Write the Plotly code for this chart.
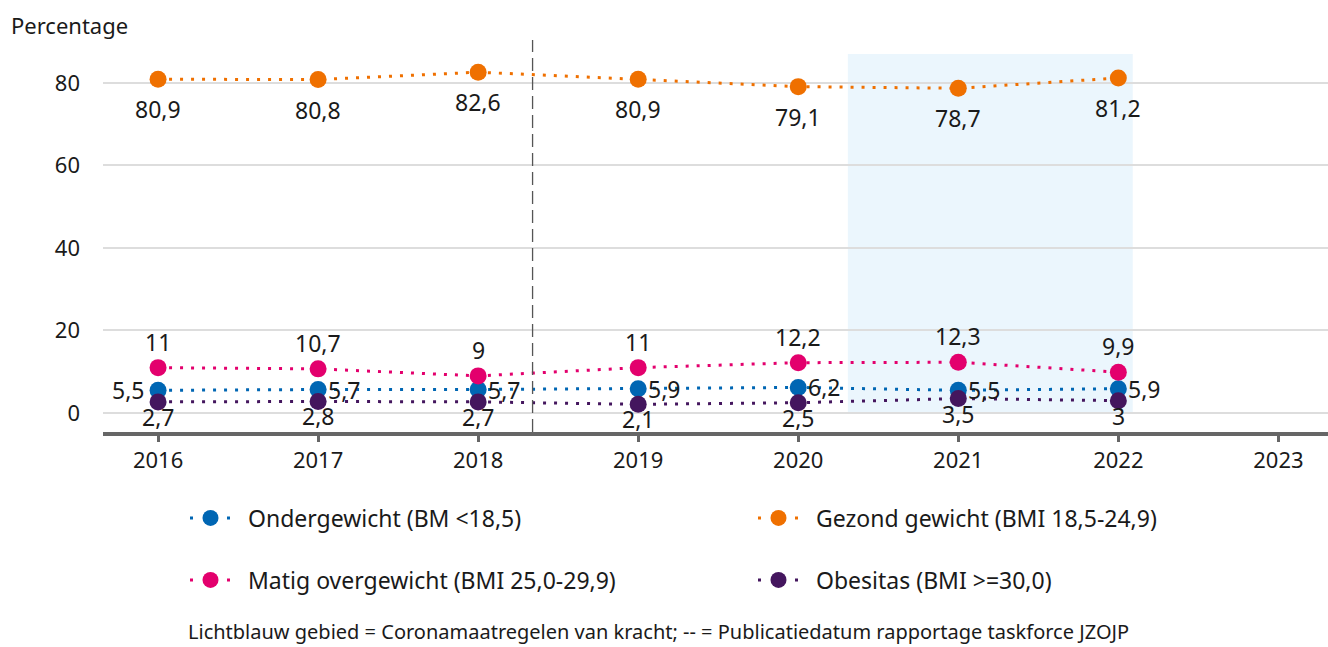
import plotly.graph_objects as go

# BMI-categorieën per jaar (percentage)
years = [2016, 2017, 2018, 2019, 2020, 2021, 2022]
ondergewicht = [5.5, 5.7, 5.7, 5.9, 6.2, 5.5, 5.9]
gezond = [80.9, 80.8, 82.6, 80.9, 79.1, 78.7, 81.2]
matig = [11, 10.7, 9, 11, 12.2, 12.3, 9.9]
obesitas = [2.7, 2.8, 2.7, 2.1, 2.5, 3.5, 3]

series_names = [
    "Ondergewicht (BM <18,5)",
    "Gezond gewicht (BMI 18,5-24,9)",
    "Matig overgewicht (BMI 25,0-29,9)",
    "Obesitas (BMI >=30,0)",
]
y_ticks = [0, 20, 40, 60, 80]
x_ticks = [2016, 2017, 2018, 2019, 2020, 2021, 2022, 2023]

corona_start, corona_end, corona_top = 2020.31, 2022.09, 87
publicatie = 2018.34

FONT = "Noto Sans"
TXT = "#1a1a1a"
colors = ["#0066b3", "#ef7000", "#e3006d", "#44165e"]


def fmt(v):
    return str(int(v)) if float(v).is_integer() else str(v).replace(".", ",")


fig = go.Figure()

# light-blue period and the dashed publication marker
fig.add_shape(type="rect", xref="x", yref="y", x0=corona_start, x1=corona_end,
              y0=0, y1=corona_top, fillcolor="#ebf6fd", line_width=0, layer="below")
fig.add_shape(type="line", xref="x", yref="paper", x0=publicatie, x1=publicatie,
              y0=0, y1=1, line=dict(color="#555555", width=1.3, dash="13px,6px"))

all_series = [ondergewicht, gezond, matig, obesitas]
legends = ["legend", "legend", "legend2", "legend2"]
for name, vals, col in zip(series_names, all_series, colors):
    fig.add_trace(go.Scatter(
        x=years, y=vals, name=name, mode="lines+markers",
        line=dict(color=col, width=3, dash="3px,8px"),
        marker=dict(color=col, size=17),
        showlegend=False, hoverinfo="skip",
    ))

# legend keys: marker with a single dot on either side
for name, col, lg in zip(series_names, colors, legends):
    fig.add_trace(go.Scatter(
        x=[None], y=[None], name=name, mode="lines+markers",
        line=dict(color=col, width=3, dash="0px,12px,3px,34px,3px,40px"),
        marker=dict(color=col, size=17),
        legend=lg, hoverinfo="skip",
    ))

# value labels
annos = []
for x, v in zip(years, gezond):
    annos.append(dict(x=x, y=v, text=fmt(v), yshift=-30))
for x, v in zip(years, matig):
    annos.append(dict(x=x, y=v, text=fmt(v), yshift=26))
for x, v in zip(years, obesitas):
    annos.append(dict(x=x, y=v, text=fmt(v), yshift=-15))
for i, (x, v) in enumerate(zip(years, ondergewicht)):
    if i == 0:
        annos.append(dict(x=x, y=v, text=fmt(v), xanchor="right", xshift=-12))
    else:
        annos.append(dict(x=x, y=v, text=fmt(v), xanchor="left", xshift=8))
for a in annos:
    a.update(xref="x", yref="y", showarrow=False, font=dict(family=FONT, size=23, color=TXT))
    fig.add_annotation(**a)

L, R, T, B = 103, 0, 40, 215
PW, PH = 1328 - L - R, 647 - T - B


def px_x(px):
    return (px - L) / PW


def px_y(py):
    return (647 - B - py) / PH


fig.add_annotation(xref="paper", yref="paper", x=px_x(9), y=px_y(25), text="Percentage",
                   xanchor="left", yanchor="middle", showarrow=False,
                   font=dict(family=FONT, size=22, color=TXT))
fig.add_annotation(xref="paper", yref="paper", x=px_x(658), y=px_y(631),
                   text="Lichtblauw gebied = Coronamaatregelen van kracht; -- = Publicatiedatum rapportage taskforce JZOJP",
                   xanchor="center", yanchor="middle", showarrow=False,
                   font=dict(family=FONT, size=20, color=TXT))

legend_common = dict(orientation="h", xanchor="left", yanchor="middle",
                     itemwidth=65, entrywidth=488, entrywidthmode="pixels",
                     font=dict(family=FONT, size=23, color=TXT),
                     bgcolor="rgba(0,0,0,0)", borderwidth=0,
                     itemclick=False, itemdoubleclick=False)

fig.update_layout(
    width=1328, height=647,
    margin=dict(l=L, r=R, t=T, b=B),
    paper_bgcolor="white", plot_bgcolor="white",
    font=dict(family=FONT, size=22, color=TXT),
    showlegend=True,
    legend=dict(x=px_x(173), y=px_y(518), **legend_common),
    legend2=dict(x=px_x(173), y=px_y(580), **legend_common),
    xaxis=dict(range=[2015.656, 2023.31], tickvals=x_ticks, ticktext=[str(t) for t in x_ticks],
               showgrid=False, zeroline=False, showline=True, linecolor="#666666", linewidth=4,
               ticks="outside", ticklen=6, tickwidth=3, tickcolor="#666666",
               tickfont=dict(family=FONT, size=22, color=TXT), fixedrange=True),
    yaxis=dict(range=[-4.6, 90.4], tickvals=y_ticks, showgrid=True, gridcolor="#dddddd",
               gridwidth=2, zeroline=False, showline=False, ticks="", ticklabelstandoff=22,
               tickfont=dict(family=FONT, size=22, color=TXT), fixedrange=True),
)

fig.write_html("out.html")
